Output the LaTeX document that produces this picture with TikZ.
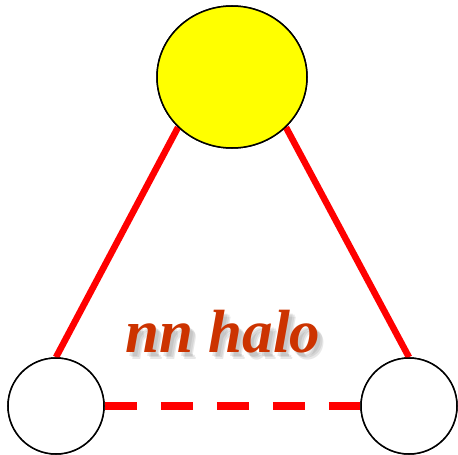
\documentclass[tikz,border=0pt]{standalone}
\usepackage{fontspec}
\setmainfont{Liberation Serif}
\usetikzlibrary{shapes.geometric}
\definecolor{halotext}{RGB}{204,51,0}
\definecolor{sunyellow}{RGB}{255,255,0}
\tikzset{
  big/.style={draw=black, line width=1.5pt, fill=sunyellow, ellipse, inner sep=0pt, minimum width=150pt, minimum height=142pt},
  small/.style={draw=black, line width=1.5pt, fill=white, circle, inner sep=0pt, minimum size=96pt},
  bond/.style={red, line width=6.5pt},
  nnbond/.style={red, line width=8pt, dash pattern=on 32pt off 24pt},
  lbl/.style={font=\fontsize{61}{61}\selectfont\bfseries\itshape, inner sep=0pt, anchor=base},
  shadowlbl/.style={lbl, text=black!55, opacity=0.16}
}
\begin{document}
\begin{tikzpicture}[x=1pt, y=-1pt]
\useasboundingbox (0,0) rectangle (458,455);
\node[big] (top) at (232,77) {};
\node[small] (left) at (56,406) {};
\node[small] (right) at (409,406) {};
\draw[bond] (top.223) -- (left.north);
\draw[bond] (top.317) -- (right.north);
\draw[nnbond] (left.east) -- (right.west);
\foreach \dx/\dy [count=\i] in {3/4,5/5,6/7} {
  \node[shadowlbl] (shadow\i) at (223+\dx,352+\dy) {nn halo};
}
\node[lbl, text=halotext] (label) at (223,352) {nn halo};
\node[big] at (top) {};
\node[small] at (left) {};
\node[small] at (right) {};
\end{tikzpicture}
\end{document}
